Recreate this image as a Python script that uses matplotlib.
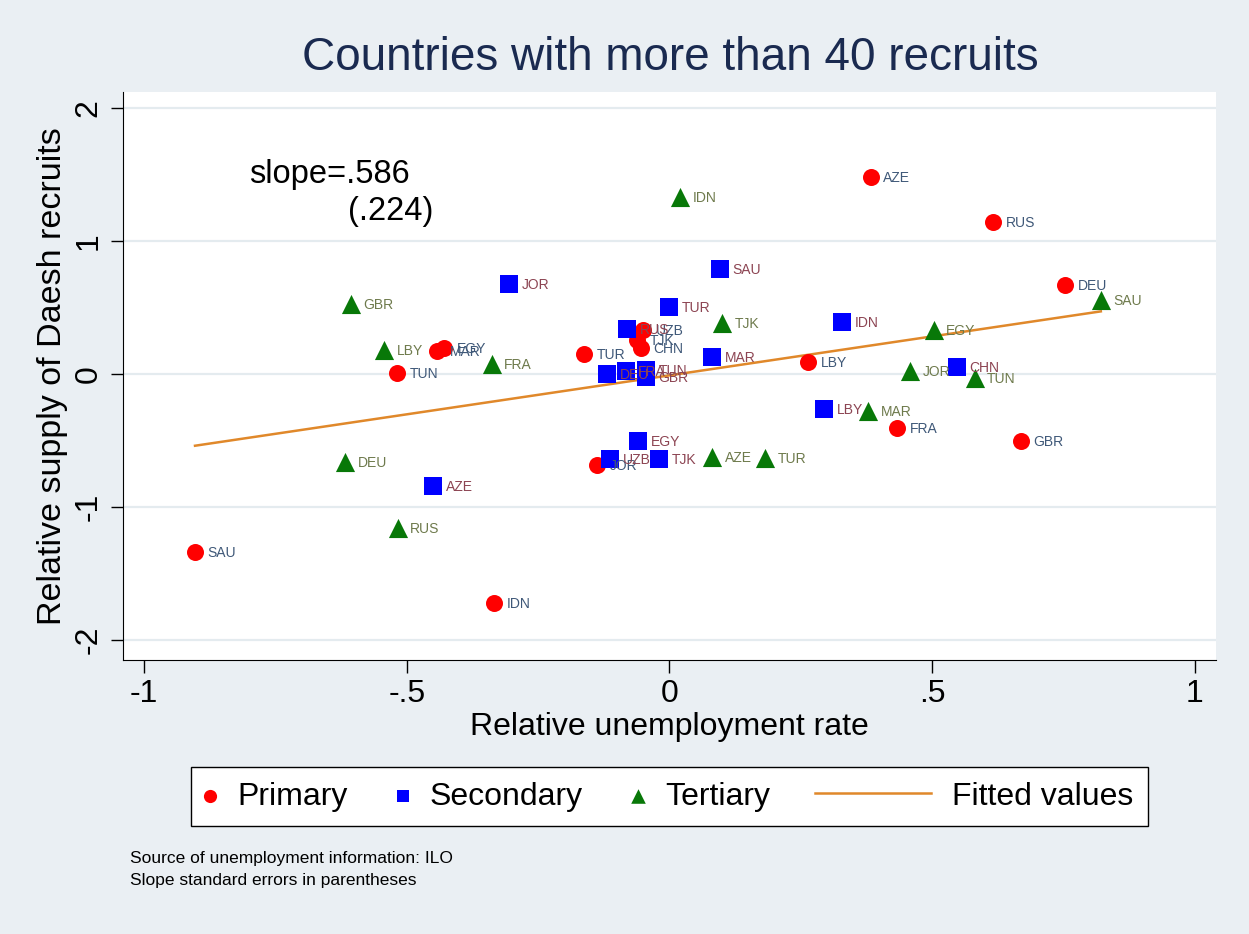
import matplotlib.pyplot as plt
from matplotlib.patches import Rectangle

plt.rcParams['font.family'] = ['Liberation Sans', 'DejaVu Sans']

# relative unemployment rate (x) and relative supply of recruits (y), by education level
primary_iso = ["SAU", "IDN", "TUN", "MAR", "EGY", "TUR", "JOR", "UZB", "TJK", "CHN",
               "AZE", "RUS", "DEU", "LBY", "FRA", "GBR"]
primary_x = [-0.903, -0.334, -0.519, -0.442, -0.429, -0.163, -0.138, -0.050, -0.062, -0.054,
             0.383, 0.616, 0.753, 0.264, 0.433, 0.669]
primary_y = [-1.338, -1.722, 0.008, 0.173, 0.195, 0.150, -0.684, 0.331, 0.256, 0.195,
             1.481, 1.143, 0.669, 0.090, -0.406, -0.504]

secondary_iso = ["JOR", "SAU", "TUR", "RUS", "IDN", "MAR", "CHN", "LBY", "EGY", "UZB",
                 "TJK", "AZE", "DEU", "FRA", "TUN", "GBR"]
secondary_x = [-0.305, 0.096, -0.001, -0.081, 0.328, 0.081, 0.547, 0.294, -0.060, -0.113,
               -0.020, -0.450, -0.119, -0.083, -0.045, -0.045]
secondary_y = [0.677, 0.789, 0.504, 0.338, 0.391, 0.128, 0.053, -0.263, -0.504, -0.639,
               -0.639, -0.842, 0.000, 0.023, 0.030, -0.023]

tertiary_iso = ["IDN", "GBR", "LBY", "FRA", "DEU", "RUS", "TJK", "AZE", "TUR", "MAR",
                "JOR", "EGY", "TUN", "SAU"]
tertiary_x = [0.020, -0.606, -0.543, -0.338, -0.617, -0.517, 0.100, 0.081, 0.182, 0.378,
              0.458, 0.503, 0.581, 0.821]
tertiary_y = [1.331, 0.526, 0.180, 0.075, -0.662, -1.158, 0.383, -0.624, -0.632, -0.278,
              0.023, 0.331, -0.030, 0.556]

fit_slope = 0.586
fit_se = 0.224
fit_intercept = -0.010

fig = plt.figure(figsize=(12.49, 9.34), dpi=100, facecolor="#eaeff3")
ax = fig.add_axes([0.0985, 0.2934, 0.875, 0.608])
ax.set_facecolor("white")

groups = [
    ("Primary", primary_iso, primary_x, primary_y, "o", "#ff0000", 150, "#3f5878"),
    ("Secondary", secondary_iso, secondary_x, secondary_y, "s", "#0000ff", 160, "#8c4452"),
    ("Tertiary", tertiary_iso, tertiary_x, tertiary_y, "^", "#087808", 190, "#6e7a4c"),
]
handles = []
for name, iso, xs, ys, mk, col, size, lab_col in groups:
    h = ax.scatter(xs, ys, marker=mk, s=size, color=col, linewidths=0, zorder=3, label=name)
    handles.append(h)
    for c, x, y in zip(iso, xs, ys):
        ax.annotate(c, (x, y), xytext=(9, -1), textcoords="offset points",
                    fontsize=10, color=lab_col, va="center", ha="left", zorder=4)

all_x = primary_x + secondary_x + tertiary_x
x0, x1 = min(all_x), max(all_x)
line, = ax.plot([x0, x1], [fit_intercept + fit_slope * x0, fit_intercept + fit_slope * x1],
                color="#e0882a", lw=1.8, zorder=2, label="Fitted values")

ax.text(-0.80, 1.50, "slope=%s" % ("%.3f" % fit_slope).lstrip("0"), fontsize=23.5, va="center")
ax.text(-0.612, 1.22, "(%s)" % ("%.3f" % fit_se).lstrip("0"), fontsize=23.5, va="center")

ax.set_xlim(-1.04, 1.04)
ax.set_ylim(-2.15, 2.12)
ax.set_xticks([-1, -0.5, 0, 0.5, 1])
ax.set_xticklabels(["-1", "-.5", "0", ".5", "1"])
ax.set_yticks([-2, -1, 0, 1, 2])
ax.set_yticklabels(["-2", "-1", "0", "1", "2"], rotation=90, va="center")
ax.tick_params(axis="both", labelsize=23, length=9, width=1, direction="out", pad=5)
ax.grid(axis="y", color="#e4ebef", lw=1.6)
ax.set_axisbelow(True)
for s in ["top", "right"]:
    ax.spines[s].set_visible(False)

ax.set_xlabel("Relative unemployment rate", fontsize=23, labelpad=2)
ax.set_ylabel("Relative supply of Daesh recruits", fontsize=24.5, labelpad=4)
fig.text(0.537, 0.938, "Countries with more than 40 recruits", fontsize=33,
         color="#1a2a50", ha="center", va="center")

# legend: box plus two borderless legends (short marker keys, long line key)
fig.add_artist(Rectangle((0.1529, 0.1156), 0.7662, 0.0632, transform=fig.transFigure,
                         facecolor="white", edgecolor="black", lw=1, zorder=1))
leg1 = fig.legend(handles=handles, loc="center left", bbox_to_anchor=(0.1605, 0.1472),
                  ncol=3, fontsize=23, frameon=False, handlelength=0.6,
                  handletextpad=0.55, columnspacing=1.42, borderpad=0, borderaxespad=0)
for h, sz in zip(leg1.legend_handles, [90, 80, 110]):
    h.set_sizes([sz])
leg2 = fig.legend(handles=[line], loc="center left", bbox_to_anchor=(0.6525, 0.1472),
                  fontsize=23, frameon=False, handlelength=3.63, handletextpad=0.66,
                  borderpad=0, borderaxespad=0)
leg1.set_zorder(2)
leg2.set_zorder(2)

fig.text(0.104, 0.081, "Source of unemployment information: ILO", fontsize=12.5, va="center")
fig.text(0.104, 0.057, "Slope standard errors in parentheses", fontsize=12.5, va="center")

fig.savefig("out.png", dpi=100, facecolor=fig.get_facecolor())
